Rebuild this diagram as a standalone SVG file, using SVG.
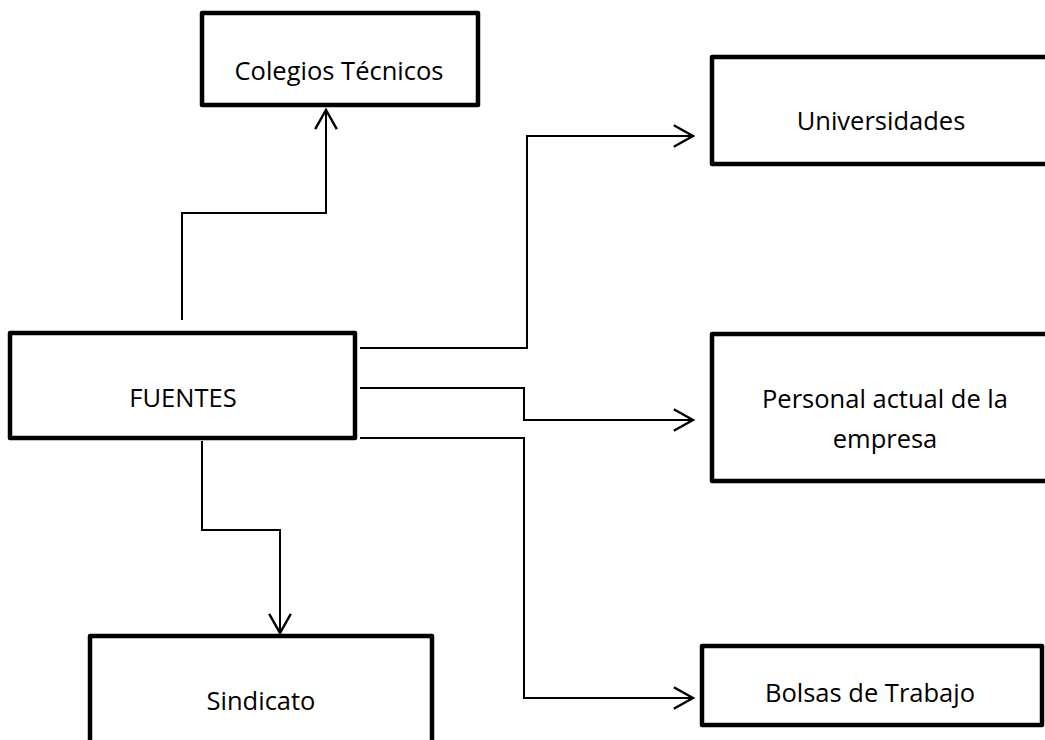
<svg xmlns="http://www.w3.org/2000/svg" width="1045" height="740" viewBox="0 0 1045 740">
  <style>
    .box { fill: #ffffff; stroke: #000000; stroke-width: 4.5; stroke-linejoin: round; }
    .lbl { font-family: "Open Sans", "Noto Sans", "Liberation Sans", sans-serif; font-size: 25.5px; fill: #000000; text-anchor: middle; }
    .wire { fill: none; stroke: #000000; stroke-width: 2; }
  </style>
  <defs>
    <marker id="chev" markerUnits="userSpaceOnUse" markerWidth="24" markerHeight="24" refX="17" refY="10" orient="auto" viewBox="0 0 20 20">
      <path d="M1,1 L17,10 L1,19" fill="none" stroke="#000000" stroke-width="2"/>
    </marker>
  </defs>
  <rect width="1045" height="740" fill="#ffffff"/>

  <!-- links from the central node -->
  <g id="connectors">
    <path class="wire" d="M182,320 V213 H326 V110" marker-end="url(#chev)"/>
    <path class="wire" d="M360,348 H527 V136 H693" marker-end="url(#chev)"/>
    <path class="wire" d="M360,388 H524 V420 H693" marker-end="url(#chev)"/>
    <path class="wire" d="M360,438 H524 V698 H693" marker-end="url(#chev)"/>
    <path class="wire" d="M202,441 V530 H280 V633" marker-end="url(#chev)"/>
  </g>

  <g id="node-colegios">
    <rect class="box" x="202" y="13" width="276" height="92"/>
    <text class="lbl" x="339" y="80">Colegios Técnicos</text>
  </g>

  <g id="node-fuentes">
    <rect class="box" x="10" y="333" width="345" height="105"/>
    <text class="lbl" x="183" y="407">FUENTES</text>
  </g>

  <g id="node-universidades">
    <rect class="box" x="712" y="57" width="360" height="107"/>
    <text class="lbl" x="881" y="130">Universidades</text>
  </g>

  <g id="node-personal">
    <rect class="box" x="712" y="334" width="360" height="147"/>
    <text class="lbl" x="885" y="408">Personal actual de la</text>
    <text class="lbl" x="885" y="448">empresa</text>
  </g>

  <g id="node-bolsas">
    <rect class="box" x="702" y="646" width="340" height="79"/>
    <text class="lbl" x="870" y="702">Bolsas de Trabajo</text>
  </g>

  <g id="node-sindicato">
    <rect class="box" x="90" y="636" width="342" height="130"/>
    <text class="lbl" x="261" y="710">Sindicato</text>
  </g>
</svg>
